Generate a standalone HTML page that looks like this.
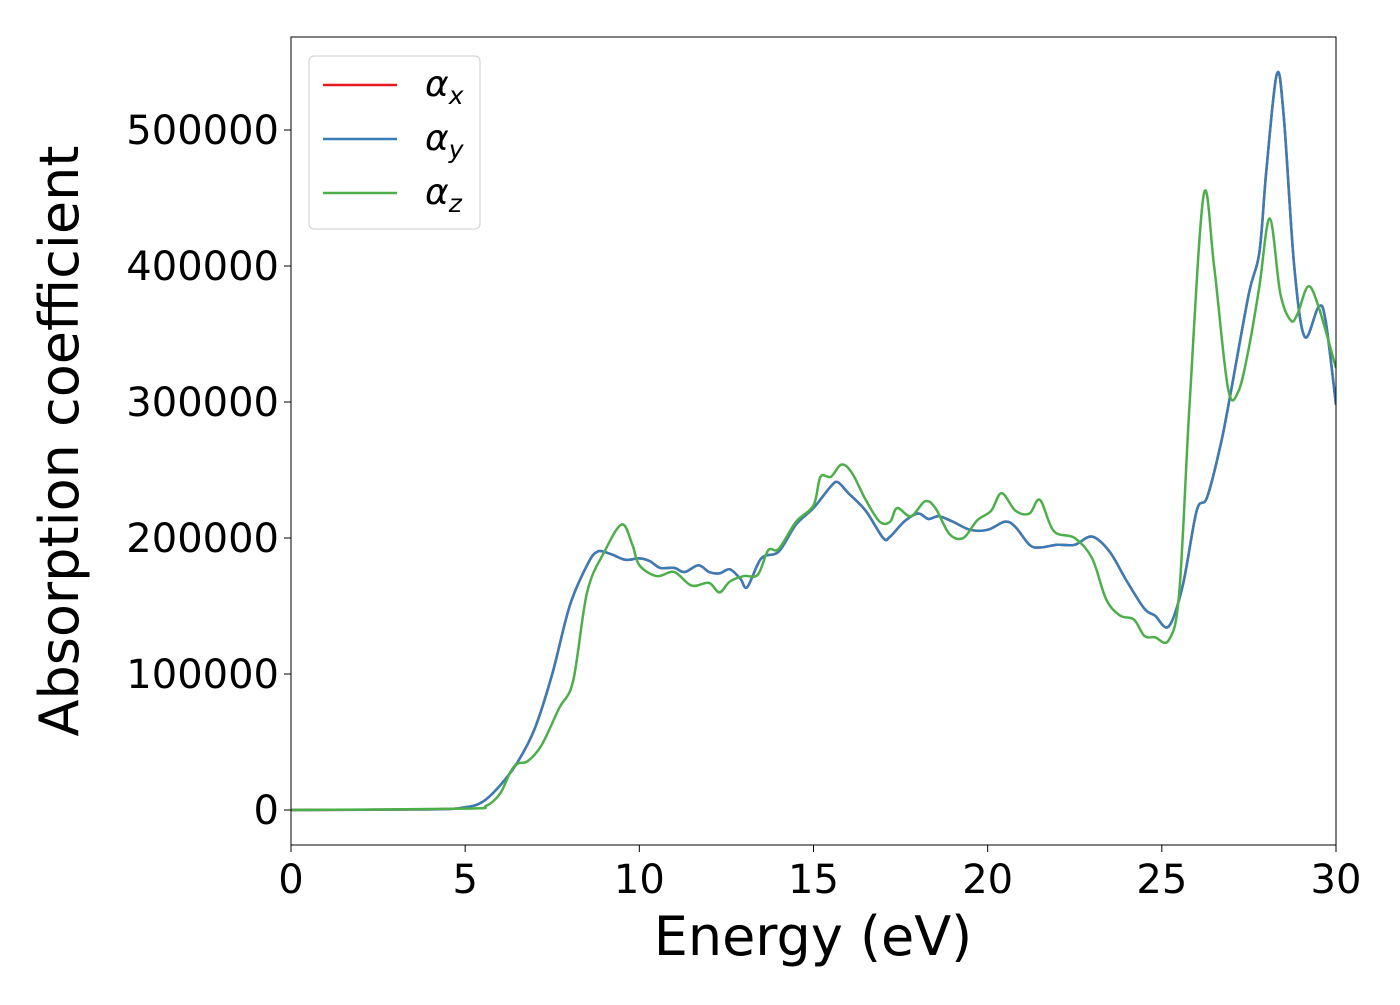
<!DOCTYPE html>
<html><head><meta charset="utf-8"><style>
body{margin:0;background:#fff}
svg{font-family:"DejaVu Sans","Liberation Sans",sans-serif}
</style></head><body>
<svg id="chart" width="1400" height="1000" viewBox="0 0 1400 1000"></svg>
<script>
const energyXY=[0,4,5,5.5,6,6.5,7,7.5,8,8.5,8.8,9.2,9.6,10,10.3,10.6,11,11.3,11.7,12,12.3,12.6,12.9,13.1,13.5,14,14.5,15,15.5,15.7,16,16.5,17,17.2,17.6,18,18.3,18.6,19,19.5,20,20.5,20.8,21.2,21.5,22,22.5,23,23.5,24,24.5,24.8,25.2,25.6,26,26.3,26.7,27,27.5,27.8,28,28.3,28.5,28.8,29.1,29.5,29.7,30];
const alphaXY=[0,500,2000,6000,18000,35000,60000,100000,150000,180000,190000,188000,184000,185000,183000,178000,178000,175000,180000,175000,174000,177000,170000,164000,185000,190000,210000,222000,238000,241000,233000,220000,200000,201000,212000,218000,214000,216000,212000,206000,206000,212000,208000,195000,193000,195000,195000,201000,190000,168000,148000,143000,135000,165000,220000,230000,270000,310000,380000,410000,470000,541000,510000,400000,348000,370000,360000,298000];
const energyZ=[0,5,5.6,6.0,6.3,6.5,6.8,7.2,7.7,8.1,8.5,9,9.5,9.8,10,10.5,11,11.5,12,12.3,12.6,13,13.4,13.7,14,14.5,15,15.2,15.5,15.8,16.1,16.5,16.9,17.2,17.4,17.8,18.2,18.5,18.9,19.3,19.7,20.1,20.4,20.8,21.2,21.5,21.9,22.5,23,23.4,23.8,24.2,24.5,24.8,25.2,25.5,25.8,26.2,26.5,26.9,27.2,27.5,27.8,28.1,28.4,28.7,28.9,29.2,29.5,30];
const alphaZ=[0,1000,3000,12000,28000,34000,36000,48000,75000,95000,160000,190000,210000,195000,180000,172000,175000,165000,167000,160000,168000,172000,173000,191000,192000,212000,224000,245000,245000,254000,248000,228000,212000,212000,222000,216000,227000,222000,203000,200000,213000,220000,233000,220000,218000,228000,205000,200000,185000,155000,143000,140000,128000,127000,125000,160000,300000,452000,400000,310000,308000,340000,385000,435000,380000,360000,365000,385000,370000,325000];
const xTicks=[0,5,10,15,20,25,30];
const yTicks=[0,100000,200000,300000,400000,500000];

const NS="http://www.w3.org/2000/svg";
const svg=document.getElementById('chart');
const L=291,R=1336,T=37,B=845;
const X=v=>L+(v/30)*(R-L);
const Y=v=>810-v*0.00136;
function el(t,a,p){const e=document.createElementNS(NS,t);for(const k in a)e.setAttribute(k,a[k]);(p||svg).appendChild(e);return e;}
const clip=el('clipPath',{id:'c'});el('rect',{x:L,y:T,width:R-L,height:B-T},clip);
function path(xs,ys,color,name){
  const p=xs.map((x,i)=>[X(x),Y(ys[i])]);
  let d='M'+p[0][0]+','+p[0][1];
  for(let i=0;i<p.length-1;i++){
    const p0=p[Math.max(0,i-1)],p1=p[i],p2=p[i+1],p3=p[Math.min(p.length-1,i+2)];
    const c1=[p1[0]+(p2[0]-p0[0])/6,p1[1]+(p2[1]-p0[1])/6];
    const c2=[p2[0]-(p3[0]-p1[0])/6,p2[1]-(p3[1]-p1[1])/6];
    d+=`C${c1[0]},${c1[1]} ${c2[0]},${c2[1]} ${p2[0]},${p2[1]}`;
  }
  const e=el('path',{d,fill:'none',stroke:color,'stroke-width':2.5,'clip-path':'url(#c)'});
  
  
}
path(energyXY,alphaXY,'#e41a1c','series-alpha-x');
path(energyXY,alphaXY,'#377eb8','series-alpha-y');
path(energyZ,alphaZ,'#4daf4a','series-alpha-z');
const frame=el('rect',{x:L,y:T,width:R-L,height:B-T,fill:'none',stroke:'#000','stroke-width':1});


xTicks.forEach(t=>{
  el('line',{x1:X(t),x2:X(t),y1:B,y2:B+7,stroke:'#000','stroke-width':1});
  const tx=el('text',{x:X(t),y:B+48,'font-size':40,'text-anchor':'middle'});tx.textContent=t;
  
  
});
yTicks.forEach(t=>{
  el('line',{x1:L-7,x2:L,y1:Y(t),y2:Y(t),stroke:'#000','stroke-width':1});
  const tx=el('text',{x:L-12,y:Y(t)+14,'font-size':40,'text-anchor':'end'});tx.textContent=t;
  
  
});
const xt=el('text',{x:813,y:955,'font-size':54,'text-anchor':'middle'});xt.textContent='Energy (eV)';


const yt=el('text',{x:0,y:0,'font-size':54,'text-anchor':'middle',transform:'translate(78,441) rotate(-90)'});yt.textContent='Absorption coefficient';


const lg=el('g',{});


el('rect',{x:309,y:56,width:171,height:173,rx:5,fill:'#fff','fill-opacity':0.8,stroke:'#ccc'},lg);
[['#e41a1c','x',85],['#377eb8','y',139],['#4daf4a','z',193]].forEach(([c,s,y])=>{
  el('line',{x1:323,x2:397,y1:y,y2:y,stroke:c,'stroke-width':2.5},lg);
  const t=el('text',{x:425,y:y+11,'font-size':36,'font-style':'italic'},lg);
  t.textContent='α';
  const sub=el('tspan',{'font-size':25,dy:8},t);sub.textContent=s;
  
  
});
</script>
</body></html>
